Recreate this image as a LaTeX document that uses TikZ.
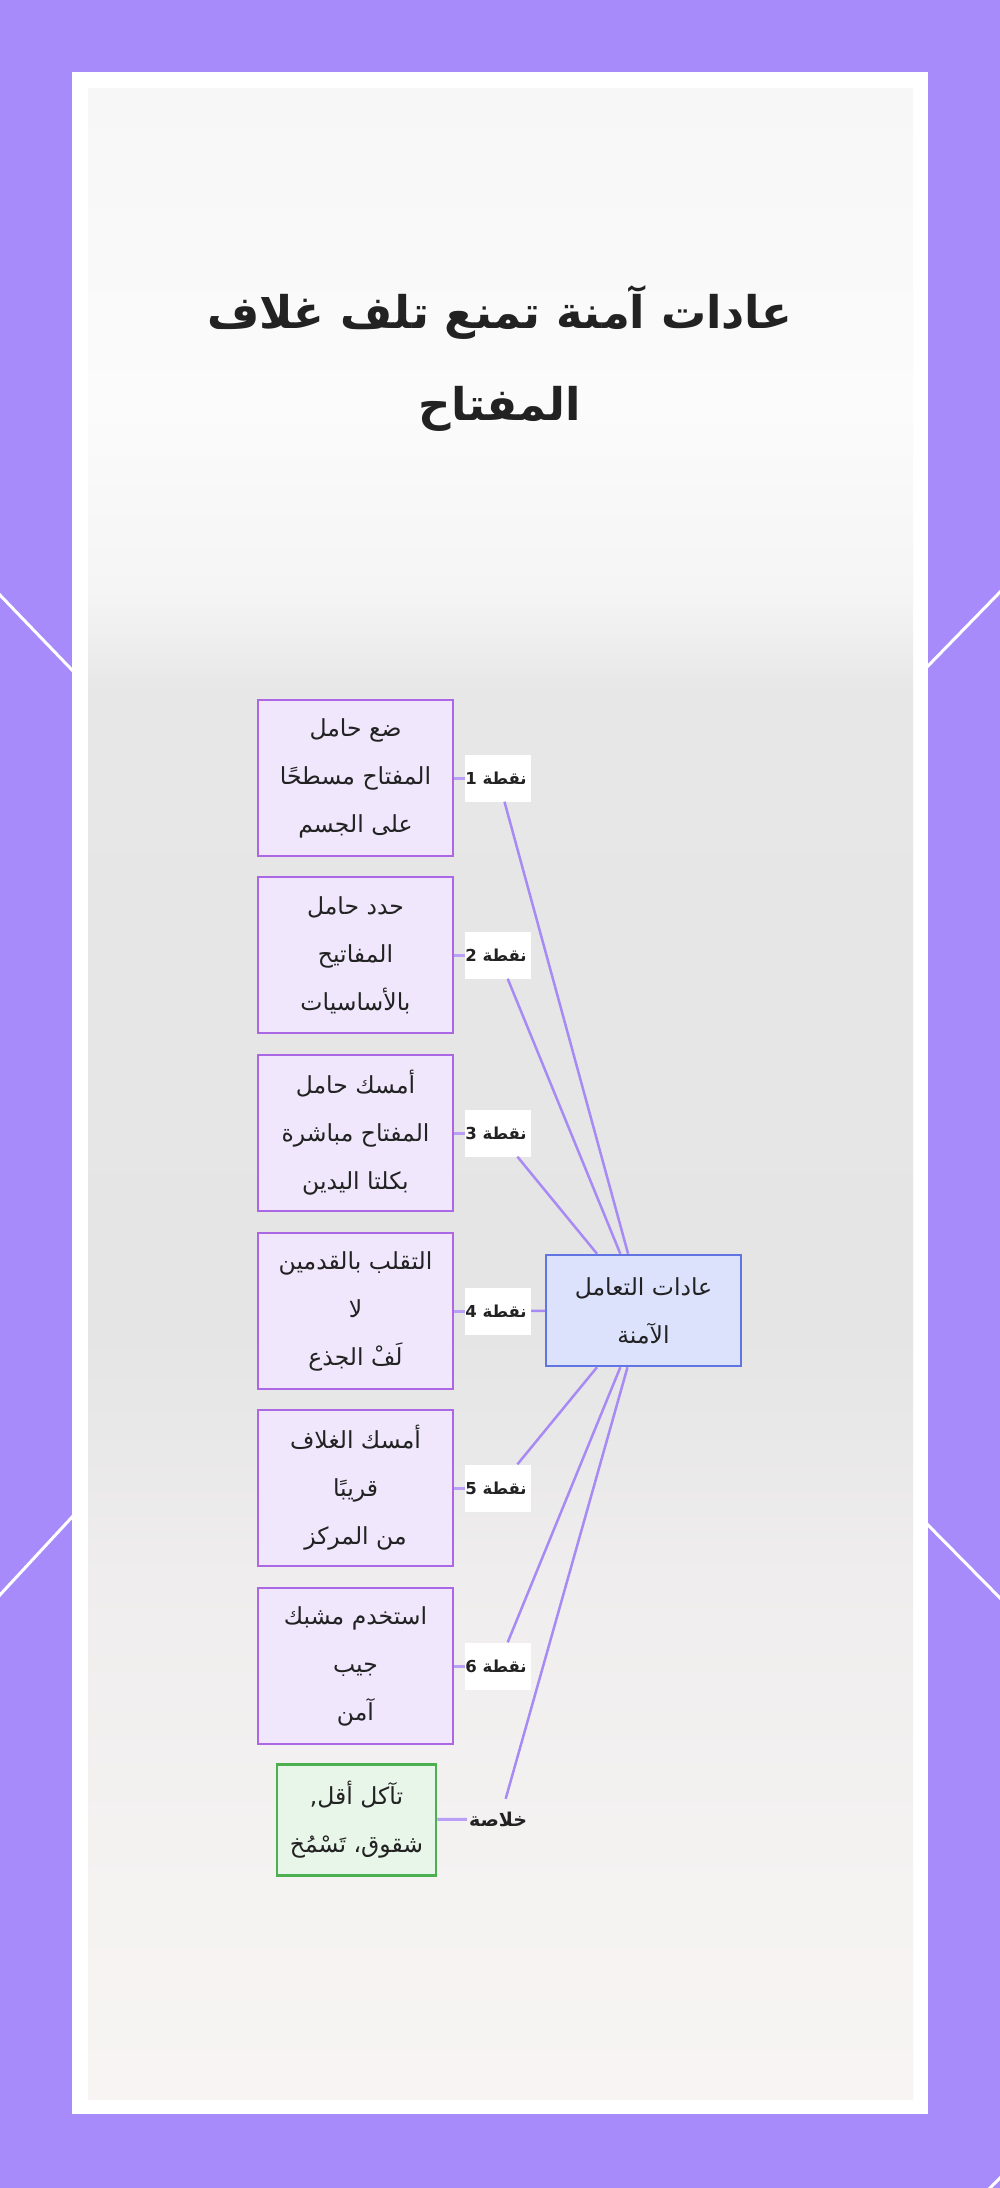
\documentclass[tikz,border=0pt]{standalone}
\usepackage{fontspec}
\setmainfont{DejaVu Sans}
\newfontfamily\arabicfont[Script=Arabic]{DejaVu Sans}
\TeXXeTstate=1
\definecolor{bgpurple}{RGB}{167,139,250}
\definecolor{boxfill}{RGB}{240,231,252}
\definecolor{boxline}{RGB}{172,104,228}
\definecolor{cfill}{RGB}{220,225,252}
\definecolor{cline}{RGB}{96,116,226}
\definecolor{gfill}{RGB}{232,245,233}
\definecolor{gline}{RGB}{76,175,80}
\definecolor{edgecol}{RGB}{168,138,244}
\definecolor{stubcol}{RGB}{185,160,246}
\definecolor{txt}{RGB}{34,34,34}
\definecolor{sA}{RGB}{247,244,243}
\definecolor{sB}{RGB}{245,242,242}
\definecolor{sC}{RGB}{239,237,237}
\definecolor{sD}{RGB}{229,229,229}
\definecolor{sE}{RGB}{231,231,231}
\definecolor{sF}{RGB}{245,245,245}
\definecolor{sG}{RGB}{251,251,251}
\definecolor{sH}{RGB}{247,247,247}
\pgfdeclareverticalshading{panelshade}{100bp}{
  color(0bp)=(sA); color(25bp)=(sA); color(30bp)=(sB); color(38bp)=(sC);
  color(44bp)=(sD); color(60bp)=(sE); color(62.5bp)=(sF); color(67bp)=(sG);
  color(75bp)=(sH); color(100bp)=(sH)}
\newcommand{\lbltext}[1]{\hspace*{-4pt}\beginR #1\endR}
\tikzset{
  pbox/.style={draw=boxline, line width=2.5pt, fill=boxfill, text=txt, minimum width=195pt, minimum height=156pt, align=center, inner sep=0pt, font=\fontsize{23.5}{48}\selectfont\arabicfont},
  gbox/.style={draw=gline, line width=2.5pt, fill=gfill, text=txt, minimum width=159pt, minimum height=111pt, align=center, inner sep=0pt, font=\fontsize{23.5}{48}\selectfont\arabicfont},
  cbox/.style={draw=cline, line width=2.5pt, fill=cfill, text=txt, minimum width=195pt, minimum height=111pt, align=center, inner sep=0pt, font=\fontsize{23.5}{48}\selectfont\arabicfont},
  lbl/.style={fill=white, text=txt, minimum width=66pt, minimum height=47pt, inner sep=2pt, align=center, font=\fontsize{16.5}{20}\selectfont\bfseries\arabicfont},
  lblnf/.style={text=txt, minimum width=66pt, minimum height=40pt, inner sep=2pt, align=center, font=\fontsize{19}{22}\selectfont\bfseries\arabicfont},
  edge/.style={draw=edgecol, line width=2.5pt},
  stub/.style={draw=stubcol, line width=3pt},
  deco/.style={draw=white, line width=3pt}
}
\begin{document}
\begin{tikzpicture}[x=1pt, y=-1pt]
\useasboundingbox (0,0) rectangle (1000,2188);
\fill[bgpurple] (0,0) rectangle (1000,2188);
\draw[deco] (-2,593) -- (73,671);
\draw[deco] (73,1516) -- (-2,1597);
\draw[deco] (927,667) -- (1002,590);
\draw[deco] (927,1524) -- (1002,1600);
\draw[deco] (986,2192) -- (1003,2175);
\fill[white] (72,72) rectangle (928,2114);
\shade[shading=panelshade] (88,88) rectangle (913,2099);

\node[align=center, text=txt, font=\fontsize{45}{92}\selectfont\bfseries\arabicfont] (title) at (500,358)
  {\beginR عادات آمنة تمنع تلف غلاف\endR\\\beginR المفتاح\endR};

\node[pbox] (b1) at (355.5,778) {\beginR ضع حامل\endR\\\beginR المفتاح مسطحًا\endR\\\beginR على الجسم\endR};
\node[pbox] (b2) at (355.5,955) {\beginR حدد حامل\endR\\\beginR المفاتيح\endR\\\beginR بالأساسيات\endR};
\node[pbox] (b3) at (355.5,1133) {\beginR أمسك حامل\endR\\\beginR المفتاح مباشرة\endR\\\beginR بكلتا اليدين\endR};
\node[pbox] (b4) at (355.5,1311) {\beginR التقلب بالقدمين\endR\\\beginR لا\endR\\\beginR لَفْ الجذع\endR};
\node[pbox] (b5) at (355.5,1488) {\beginR أمسك الغلاف\endR\\\beginR قريبًا\endR\\\beginR من المركز\endR};
\node[pbox] (b6) at (355.5,1666) {\beginR استخدم مشبك\endR\\\beginR جيب\endR\\\beginR آمن\endR};
\node[gbox] (g) at (356.5,1820) {\beginR تآكل أقل,\endR\\\beginR شقوق، تَسْمُخ\endR};

\node[cbox] (c) at (643.5,1310.5) {\beginR عادات التعامل\endR\\\beginR الآمنة\endR};

\node[lbl] (l1) at (498,778) {\lbltext{نقطة 1}};
\node[lbl] (l2) at (498,955) {\lbltext{نقطة 2}};
\node[lbl] (l3) at (498,1133) {\lbltext{نقطة 3}};
\node[lbl] (l4) at (498,1311) {\lbltext{نقطة 4}};
\node[lbl] (l5) at (498,1488) {\lbltext{نقطة 5}};
\node[lbl] (l6) at (498,1666) {\lbltext{نقطة 6}};
\node[lblnf] (l7) at (500,1819) {\lbltext{خلاصة}};

\foreach \i in {1,...,7} { \draw[edge] (c) -- (l\i); }
\foreach \i in {1,...,6} { \draw[stub] (l\i) -- (b\i); }
\draw[stub] (l7) -- (g);
\end{tikzpicture}
\end{document}
